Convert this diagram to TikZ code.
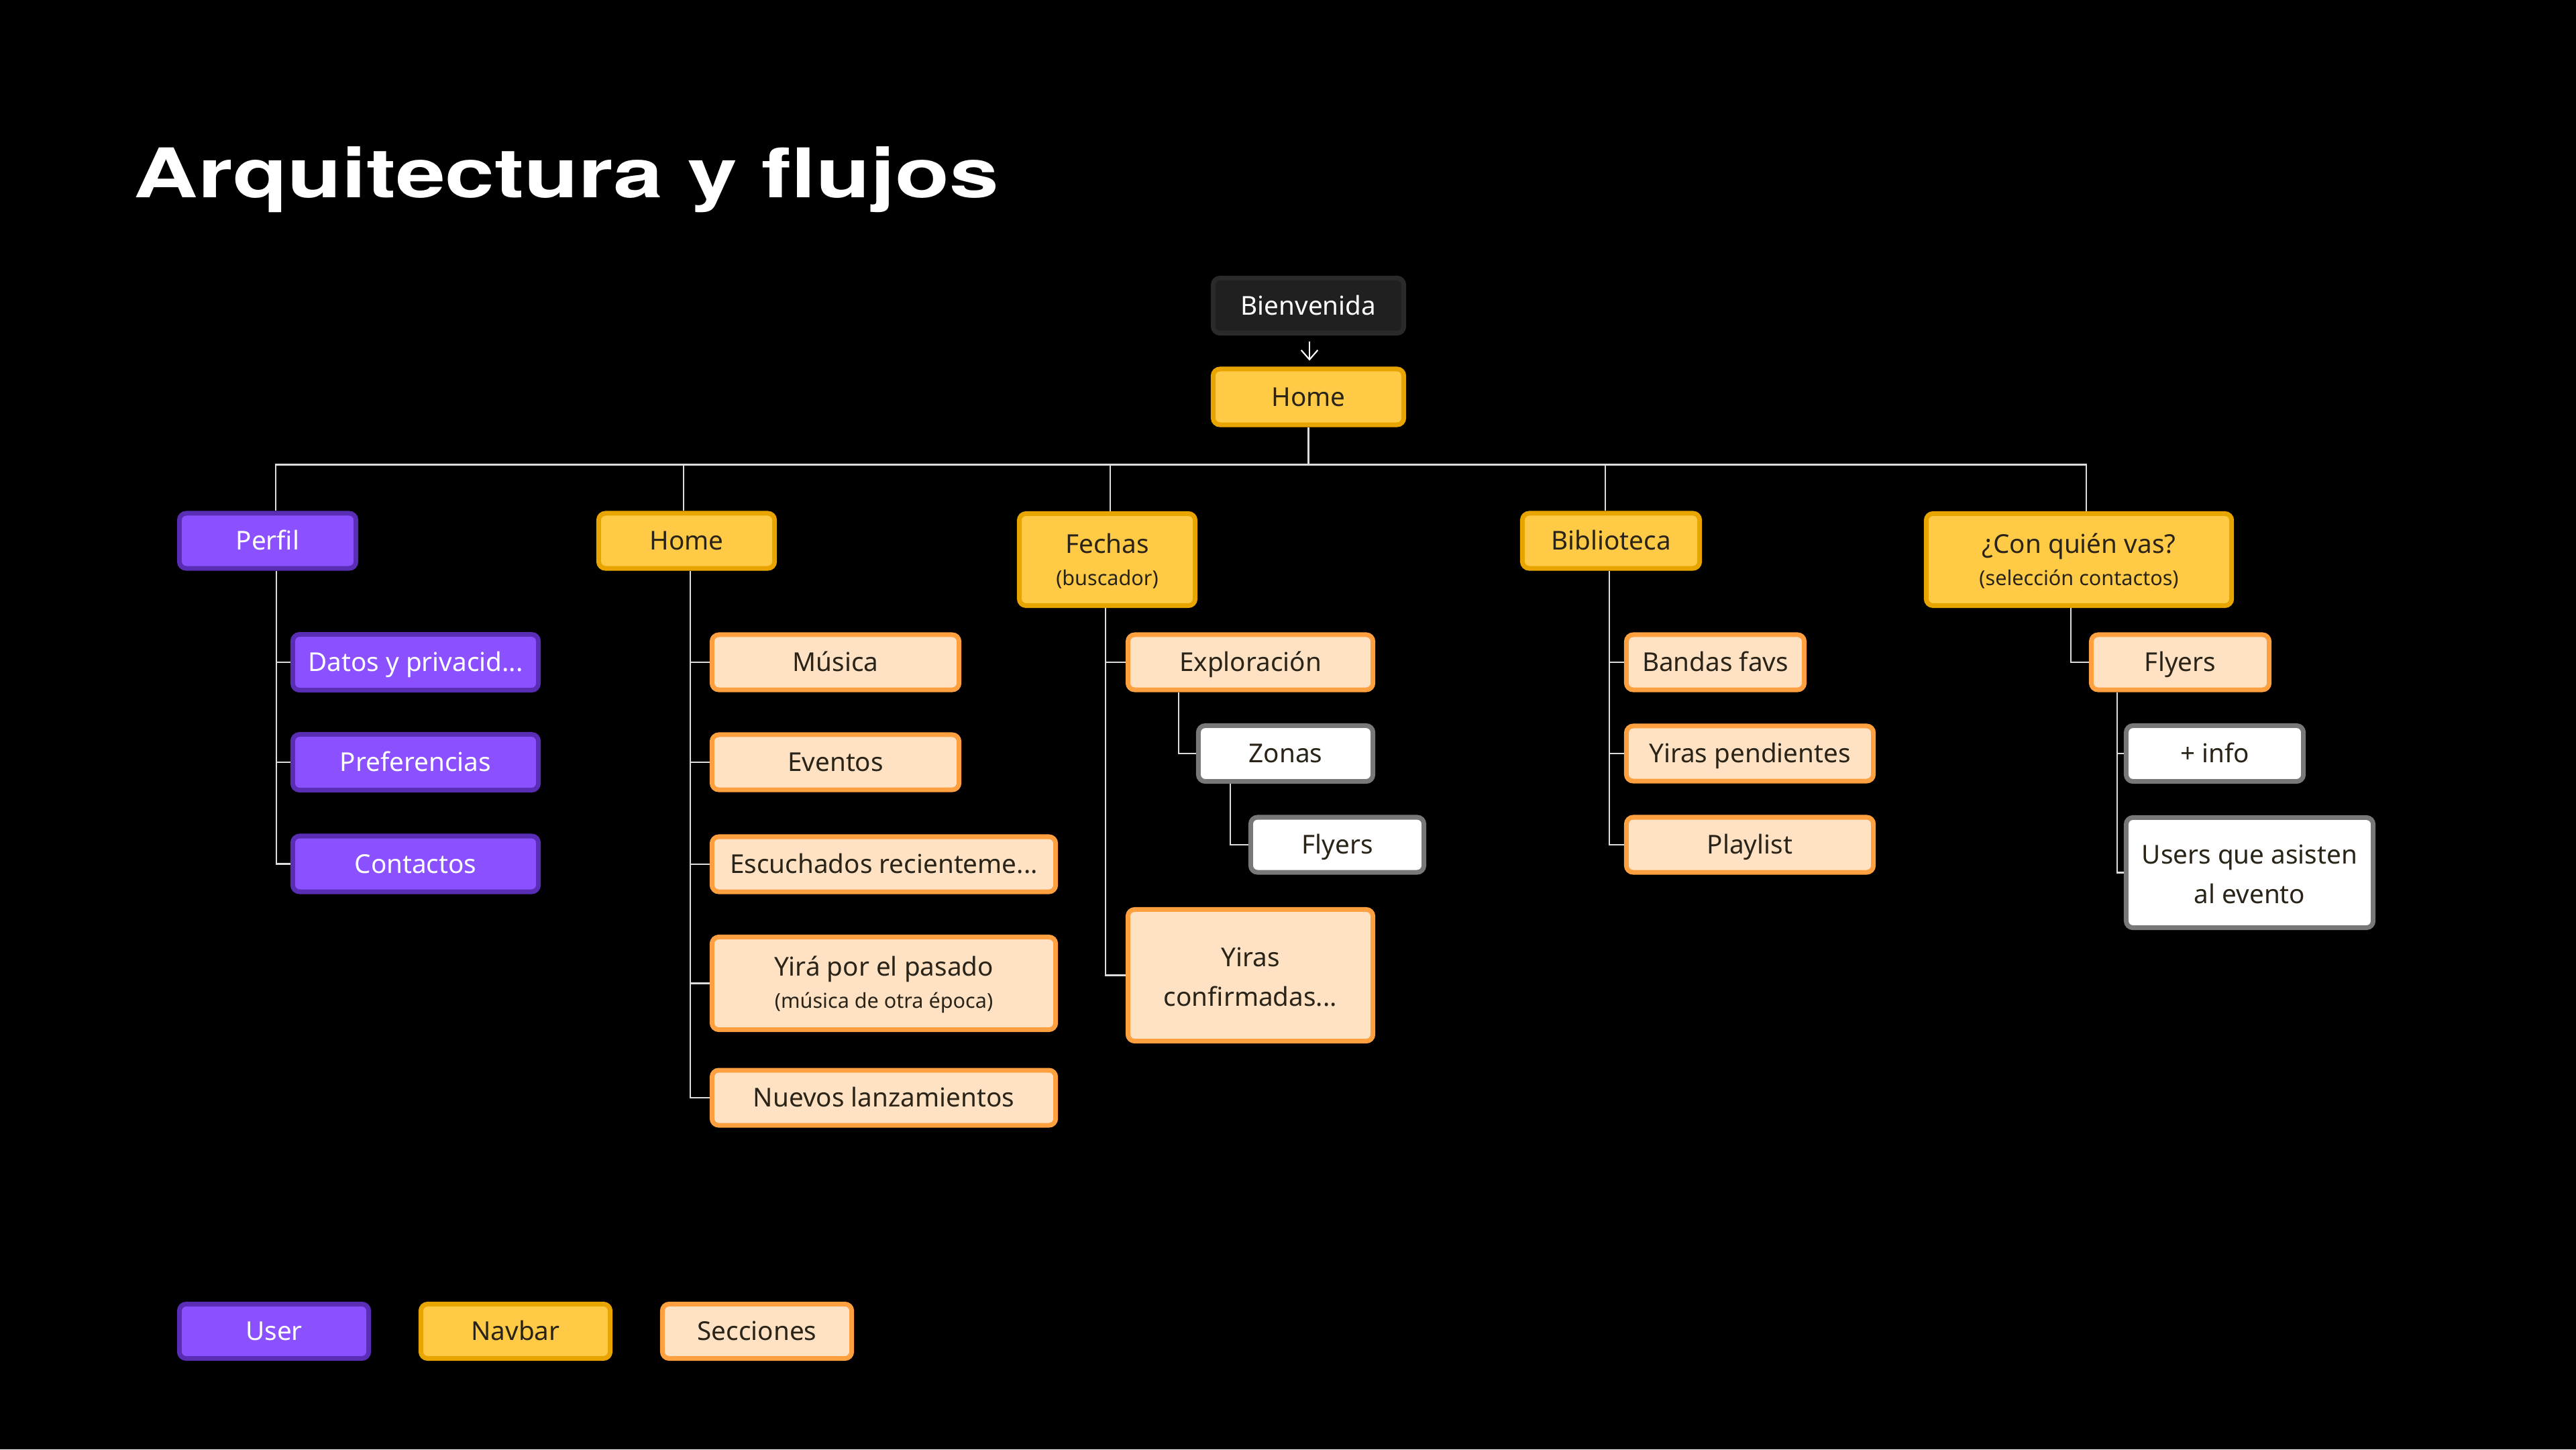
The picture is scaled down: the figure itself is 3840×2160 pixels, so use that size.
\documentclass[tikz,border=0pt]{standalone}
\usepackage{fontspec}
\setmainfont{Noto Sans}
\newfontfamily\titlefont[FakeStretch=1.3]{TeX Gyre Heros}
\usetikzlibrary{arrows.meta,calc}
\definecolor{purfill}{HTML}{8B50FF}
\definecolor{purline}{HTML}{5A2DB5}
\definecolor{yelfill}{HTML}{FFCA46}
\definecolor{yelline}{HTML}{E8A500}
\definecolor{pchfill}{HTML}{FFE2C4}
\definecolor{pchline}{HTML}{FFA040}
\definecolor{gryline}{HTML}{787878}
\definecolor{dkfill}{HTML}{202020}
\definecolor{dkline}{HTML}{2A2A2A}
\definecolor{linec}{HTML}{DCDCDC}
\definecolor{txtdark}{HTML}{2A2418}
\newcommand{\nfont}{\fontsize{11}{16.8}\selectfont}
\newcommand{\sfnt}{\fontsize{8.7}{11}\selectfont}
\newcommand{\strt}{\rule{0pt}{9.6pt}}
\tikzset{
  box/.style={rounded corners=0.1cm, line width=0.07cm, inner sep=0pt, align=center, font=\nfont, minimum height=0.82cm},
  one/.style={text height=9pt, text depth=1.2pt},
  userbox/.style={box, fill=purfill, draw=purline, text=white},
  navbox/.style={box, fill=yelfill, draw=yelline, text=txtdark},
  secbox/.style={box, fill=pchfill, draw=pchline, text=txtdark},
  subbox/.style={box, fill=white, draw=gryline, text=txtdark},
  darkbox/.style={box, fill=dkfill, draw=dkline, text=white},
  conn/.style={draw=linec, line width=0.6pt},
  arr/.style={draw=white, line width=0.6pt, -{Straight Barb[length=4pt,width=7pt]}}
}
\begin{document}
\begin{tikzpicture}[x=0.01cm,y=-0.01cm]
\fill[black] (0,0) rectangle (3840,2160);
\useasboundingbox (0,0) rectangle (3840,2160);

\node[anchor=base west, inner sep=0pt, text=white, font=\titlefont\bfseries\fontsize{29}{30}\selectfont] (title) at (199,294) {Arquitectura y flujos};

% top
\node[darkbox, one, minimum width=2.84cm] (bien) at (1950.5,455.5) {Bienvenida};
\node[navbox, one, minimum width=2.84cm, minimum height=0.83cm] (homeT) at (1950.5,591.5) {Home};
\draw[arr] ($(bien.south)+(1.5,9)$) -- ($(homeT.north)+(1.5,-9)$);

% navbar row
\node[userbox, one, minimum width=2.63cm] (perfil) at (399,806) {Perfil};
\node[navbox, one, minimum width=2.62cm] (home2) at (1023.5,806) {Home};
\node[navbox, minimum width=2.62cm, minimum height=1.37cm] (fechas) at (1650.5,834) {\strt Fechas\\[-3pt]{\sfnt (buscador)}};
\node[navbox, one, minimum width=2.64cm] (biblio) at (2401.5,806) {Biblioteca};
\node[navbox, minimum width=4.55cm, minimum height=1.37cm] (conq) at (3099,834) {\strt ¿Con quién vas?\\[-3pt]{\sfnt (selección contactos)}};

\coordinate (bus) at ($(homeT.south)+(0,56)$);
\draw[conn] (homeT.south) -- (bus);
\draw[conn] ($(perfil.north)+(12,0)$) |- (bus);
\draw[conn] ($(conq.north)+(11,0)$) |- (bus);
\draw[conn] ($(home2.north)+(-4.5,0)$) |- (bus);
\draw[conn] ($(fechas.north)+(4.5,0)$) |- (bus);
\draw[conn] ($(biblio.north)+(-8.5,0)$) |- (bus);

% Perfil children
\node[userbox, one, minimum width=3.66cm, minimum height=0.83cm] (datos) at (619.5,987) {Datos y privacid...};
\node[userbox, one, minimum width=3.66cm, minimum height=0.83cm] (pref) at (619.5,1136) {Preferencias};
\node[userbox, one, minimum width=3.66cm, minimum height=0.83cm] (contac) at (619.5,1287.5) {Contactos};
\coordinate (pT) at ($(perfil.south)+(13,0)$);
\draw[conn] (pT) |- (contac.west);
\draw[conn] (datos.west) -- (datos.west -| pT);
\draw[conn] (pref.west) -- (pref.west -| pT);

% Home children
\node[secbox, one, minimum width=3.68cm] (musica) at (1245.5,987) {Música};
\node[secbox, one, minimum width=3.68cm] (eventos) at (1245.5,1136) {Eventos};
\node[secbox, one, minimum width=5.12cm] (escuch) at (1317.5,1288) {Escuchados recienteme...};
\node[secbox, minimum width=5.12cm, minimum height=1.38cm] (yira) at (1317.5,1465.5) {\strt Yirá por el pasado\\[-3pt]{\sfnt (música de otra época)}};
\node[secbox, one, minimum width=5.12cm] (nuevos) at (1317.5,1636) {Nuevos lanzamientos};
\coordinate (hT) at ($(home2.south)+(5.5,0)$);
\draw[conn] (hT) |- (nuevos.west);
\draw[conn] (musica.west) -- (musica.west -| hT);
\draw[conn] (eventos.west) -- (eventos.west -| hT);
\draw[conn] (escuch.west) -- (escuch.west -| hT);
\draw[conn] (yira.west) -- (yira.west -| hT);

% Fechas children
\node[secbox, one, minimum width=3.65cm] (explor) at (1864,987) {Exploración};
\node[subbox, one, minimum width=2.60cm, minimum height=0.83cm] (zonas) at (1916.5,1123) {Zonas};
\node[subbox, one, minimum width=2.58cm] (flyF) at (1993.5,1259) {Flyers};
\node[secbox, minimum width=3.65cm, minimum height=1.96cm] (yirasc) at (1864,1453.5) {\strt Yiras\\confirmadas...};
\coordinate (fT) at ($(fechas.south)+(-2.5,0)$);
\draw[conn] (fT) |- (yirasc.west);
\draw[conn] (explor.west) -- (explor.west -| fT);
\draw[conn] ($(explor.south)+(-107,0)$) |- (zonas.west);
\draw[conn] ($(zonas.south)+(-82.5,0)$) |- (flyF.west);

% Biblioteca children
\node[secbox, one, minimum width=2.65cm] (bandas) at (2557,987) {Bandas favs};
\node[secbox, one, minimum width=3.68cm] (yirasp) at (2608.5,1123) {Yiras pendientes};
\node[secbox, one, minimum width=3.68cm] (playlist) at (2608.5,1259) {Playlist};
\coordinate (bT) at ($(biblio.south)+(-2.5,0)$);
\draw[conn] (bT) |- (playlist.west);
\draw[conn] (bandas.west) -- (bandas.west -| bT);
\draw[conn] (yirasp.west) -- (yirasp.west -| bT);

% Con quien children
\node[secbox, one, minimum width=2.65cm] (flyC) at (3250,987) {Flyers};
\node[subbox, one, minimum width=2.64cm, minimum height=0.83cm] (info) at (3301.5,1123) {+ info};
\node[subbox, minimum width=3.68cm, minimum height=1.64cm] (users) at (3353.5,1300.5) {\strt Users que asisten\\al evento};
\draw[conn] ($(conq.south)+(-12,0)$) |- (flyC.west);
\coordinate (cT) at ($(flyC.south)+(-94,0)$);
\draw[conn] (cT) |- (users.west);
\draw[conn] (info.west) -- (info.west -| cT);

% legend
\node[userbox, one, minimum width=2.82cm, minimum height=0.81cm] (lguser) at (408.5,1984) {User};
\node[navbox, one, minimum width=2.82cm, minimum height=0.81cm] (lgnav) at (768.5,1984) {Navbar};
\node[secbox, one, minimum width=2.82cm, minimum height=0.81cm] (lgsec) at (1128.5,1984) {Secciones};
\end{tikzpicture}
\end{document}
